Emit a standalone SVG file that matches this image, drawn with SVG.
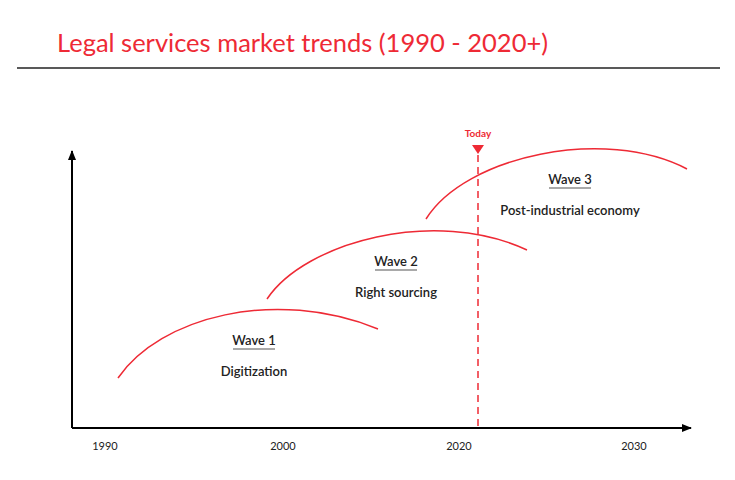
<svg xmlns="http://www.w3.org/2000/svg" width="735" height="480" viewBox="0 0 735 480">
<style>
.title{font-family:Lato,"Liberation Sans",sans-serif;font-size:25.5px;fill:#ee2a35}
.yr{font-family:Lato,"Liberation Sans",sans-serif;font-size:11px;fill:#222;text-anchor:middle}
.wave{font-family:Lato,"Liberation Sans",sans-serif;font-size:13px;font-weight:600;fill:#222;text-anchor:middle}
.curve{fill:none;stroke:#ee2a35;stroke-width:1.5}
.ul{stroke:#555;stroke-width:1.2}
</style>
<defs>
<marker id="ah" markerWidth="10" markerHeight="8" refX="9" refY="4" orient="auto" markerUnits="userSpaceOnUse">
<path d="M0,0 L10,4 L0,8 z" fill="#000"/>
</marker>
</defs>
<rect width="735" height="480" fill="#fff"/>
<text class="title" x="57" y="52">Legal services market trends (1990 - 2020+)</text>
<line x1="17" y1="68" x2="720" y2="68" stroke="#222" stroke-width="1.5"/>
<g id="axes">
<line x1="72" y1="428" x2="72" y2="151" stroke="#000" stroke-width="2" marker-end="url(#ah)"/>
<line x1="72" y1="428" x2="691" y2="428" stroke="#000" stroke-width="2" marker-end="url(#ah)"/>
<text class="yr" x="105" y="450">1990</text>
<text class="yr" x="283" y="450">2000</text>
<text class="yr" x="459" y="450">2020</text>
<text class="yr" x="634" y="450">2030</text>
</g>
<g id="connectors">
<path class="curve" d="M118,378 C160,317 275,287 378,329"/>
<path class="curve" d="M267,299 C305,242 435,207 527,250"/>
<path class="curve" d="M426,219 C465,156 605,126 687,169"/>
</g>
<g id="today">
<line x1="478" y1="155" x2="478" y2="427" stroke="#ee2a35" stroke-width="1.5" stroke-dasharray="7,5"/>
<path d="M472,145 L484,145 L478,154 z" fill="#ee2a35"/>
<text x="478" y="137" text-anchor="middle" font-family="Lato,'Liberation Sans',sans-serif" font-size="10" font-weight="700" fill="#ee2a35">Today</text>
</g>
<g id="wave1">
<text class="wave" x="254" y="345">Wave 1</text>
<line class="ul" x1="233" y1="349" x2="275" y2="349"/>
<text class="wave" x="254" y="376">Digitization</text>
</g>
<g id="wave2">
<text class="wave" x="396" y="266">Wave 2</text>
<line class="ul" x1="375" y1="270" x2="417" y2="270"/>
<text class="wave" x="396" y="297">Right sourcing</text>
</g>
<g id="wave3">
<text class="wave" x="570" y="184">Wave 3</text>
<line class="ul" x1="549" y1="188" x2="591" y2="188"/>
<text class="wave" x="570" y="215">Post-industrial economy</text>
</g>
</svg>
